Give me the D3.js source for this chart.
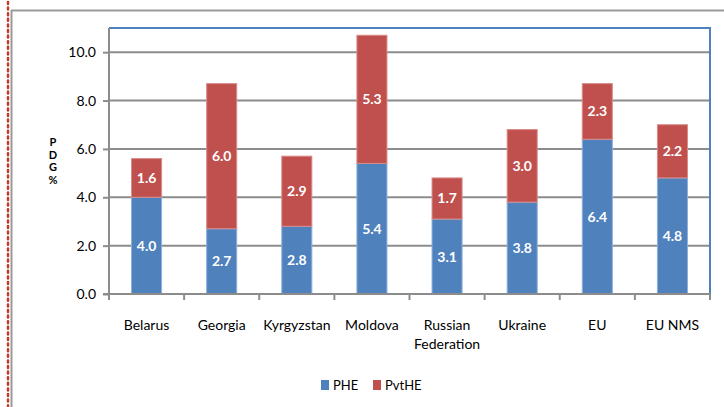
<!DOCTYPE html>
<html>
<head>
<meta charset="utf-8">
<script src="https://cdn.jsdelivr.net/npm/d3@7"></script>
<style>
  body { margin: 0; background: #fff; }
  text { font-family: Lato, "Open Sans", sans-serif; }
</style>
</head>
<body>
<div id="chart"></div>
<script>
// data
const categories = ["Belarus", "Georgia", "Kyrgyzstan", "Moldova", "Russian Federation", "Ukraine", "EU", "EU NMS"];
const phe = [4.0, 2.7, 2.8, 5.4, 3.1, 3.8, 6.4, 4.8];
const pvthe = [1.6, 6.0, 2.9, 5.3, 1.7, 3.0, 2.3, 2.2];
const yTicks = [0, 2, 4, 6, 8, 10];
const seriesNames = ["PHE", "PvtHE"];
const colors = ["#4f81bd", "#c0504d"];

const width = 724, height = 407;
const margin = { left: 109, right: 14, top: 28, bottom: 113 };

const svg = d3.select("#chart").append("svg")
    .attr("width", width)
    .attr("height", height);

// outer frame + dotted red edge
svg.append("line").attr("x1", 11.5).attr("x2", 11.5).attr("y1", 10).attr("y2", height)
    .attr("stroke", "#9a9a9a").attr("stroke-width", 2);
svg.append("line").attr("x1", 11).attr("x2", width).attr("y1", 10.5).attr("y2", 10.5)
    .attr("stroke", "#9a9a9a").attr("stroke-width", 2);
svg.append("line").attr("x1", 8).attr("x2", 8).attr("y1", 2).attr("y2", height)
    .attr("stroke", "#c0392b").attr("stroke-width", 2.5)
    .attr("stroke-dasharray", "2,3.6").attr("stroke-linecap", "round");

const x = d3.scaleBand()
    .domain(categories)
    .range([margin.left, width - margin.right])
    .paddingInner(0.6)
    .paddingOuter(0.3);

const y = d3.scaleLinear()
    .domain([0, 11])
    .range([height - margin.bottom, margin.top]);

// gridlines
svg.append("g")
    .selectAll("line")
    .data(yTicks.slice(1))
    .join("line")
    .attr("x1", margin.left).attr("x2", width - margin.right)
    .attr("y1", d => y(d)).attr("y2", d => y(d))
    .attr("stroke", "#8c8c8c").attr("stroke-width", 2);

// plot area border (blue)
svg.append("path")
    .attr("d", `M${margin.left},${margin.top}H${width - margin.right}V${y(0)}`)
    .attr("fill", "none")
    .attr("stroke", "#4f81bd")
    .attr("stroke-width", 2);

const stacked = categories.map((c, i) => ({ cat: c, vals: [phe[i], pvthe[i]] }));

const bars = svg.append("g").selectAll("g")
    .data(stacked)
    .join("g");

bars.each(function(d) {
    let base = 0;
    const g = d3.select(this);
    d.vals.forEach((v, k) => {
        g.append("rect")
            .attr("x", x(d.cat))
            .attr("width", x.bandwidth())
            .attr("y", y(base + v))
            .attr("height", y(base) - y(base + v))
            .attr("fill", colors[k])
            .attr("stroke", k == 0 ? "#8fb0da" : "#d88c8a")
            .attr("stroke-width", 1);
        g.append("text")
            .attr("x", x(d.cat) + x.bandwidth() / 2)
            .attr("y", (y(base) + y(base + v)) / 2 + 5)
            .attr("text-anchor", "middle")
            .attr("fill", "#fff")
            .attr("font-weight", "bold")
            .attr("font-size", 14)
            .text(v.toFixed(1));
        base += v;
    });
});

// y axis
const yAxis = svg.append("g")
    .attr("transform", `translate(${margin.left},0)`)
    .call(d3.axisLeft(y).tickValues(yTicks).tickFormat(d3.format(".1f")).tickSize(6).tickPadding(7));
yAxis.select(".domain").attr("stroke", "#8c8c8c").attr("stroke-width", 2).attr("d", `M0,${margin.top}V${y(0)}`);
yAxis.selectAll(".tick line").attr("stroke", "#8c8c8c").attr("stroke-width", 2);
yAxis.selectAll(".tick text").attr("font-size", 14).attr("fill", "#000")
    .attr("font-family", "Lato, sans-serif");

// x axis
const xAxisG = svg.append("g")
    .attr("transform", `translate(0,${y(0)})`);
xAxisG.append("line")
    .attr("x1", margin.left - 6).attr("x2", width - margin.right)
    .attr("stroke", "#8c8c8c").attr("stroke-width", 2);
const step = x.step();
xAxisG.selectAll(".xt")
    .data(d3.range(categories.length + 1))
    .join("line")
    .attr("x1", i => margin.left + i * step).attr("x2", i => margin.left + i * step)
    .attr("y1", 0).attr("y2", 6)
    .attr("stroke", "#8c8c8c").attr("stroke-width", 2);

svg.append("g").selectAll("text")
    .data(categories)
    .join("text")
    .attr("text-anchor", "middle")
    .attr("font-size", 14)
    .attr("fill", "#000")
    .each(function(d) {
        const words = d === "Russian Federation" ? ["Russian", "Federation"] : [d];
        const t = d3.select(this);
        words.forEach((w, j) => {
            t.append("tspan")
                .attr("x", x(d) + x.bandwidth() / 2)
                .attr("y", 330 + j * 19)
                .text(w);
        });
    });

// y axis title, letters stacked
svg.append("g").selectAll("text")
    .data(["P", "D", "G", "%"])
    .join("text")
    .attr("x", 53)
    .attr("y", (d, i) => 146 + i * 12.5)
    .attr("text-anchor", "middle")
    .attr("font-size", 11)
    .attr("font-weight", "bold")
    .text(d => d);

// legend
const legend = svg.append("g").attr("transform", "translate(321,385)");
const li = legend.selectAll("g")
    .data(seriesNames)
    .join("g")
    .attr("transform", (d, i) => `translate(${i * 52},0)`);
li.append("rect")
    .attr("x", 0).attr("y", -5).attr("width", 8).attr("height", 10)
    .attr("fill", (d, i) => colors[i]);
li.append("text")
    .attr("x", 12).attr("y", 5)
    .attr("font-size", 13)
    .text(d => d);
</script>
</body>
</html>
